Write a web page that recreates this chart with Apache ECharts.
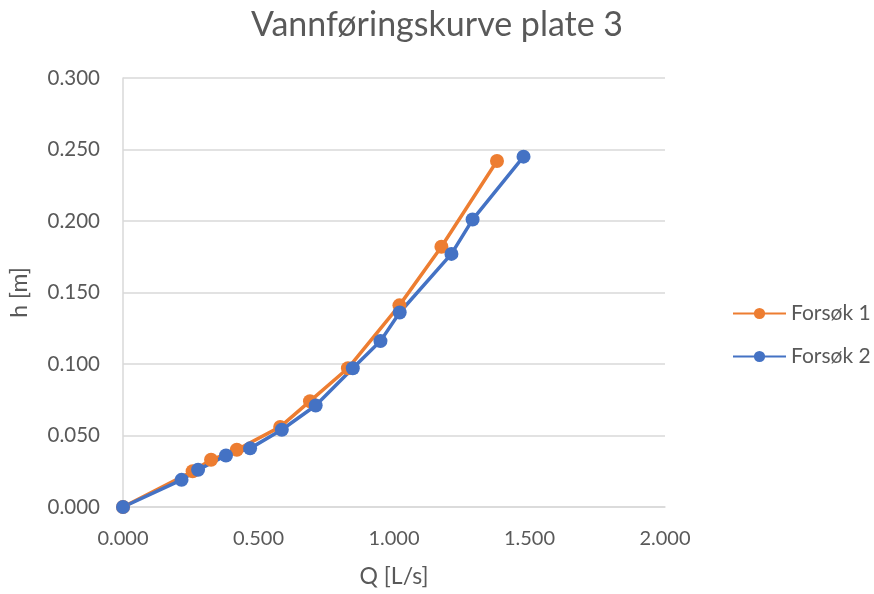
<!DOCTYPE html>
<html><head><meta charset="utf-8">
<script src="https://cdn.jsdelivr.net/npm/echarts@6/dist/echarts.min.js"></script>
<style>html,body{margin:0;padding:0;background:#fff}#c{width:874px;height:594px}</style>
</head><body><div id="c"></div>
<script>
const titleText = 'Vannføringskurve plate 3';
const seriesNames = ['Forsøk 1', 'Forsøk 2'];
const q1 = [0, 0.257, 0.325, 0.42, 0.58, 0.69, 0.83, 1.02, 1.175, 1.38];
const h1 = [0, 0.025, 0.033, 0.040, 0.056, 0.074, 0.097, 0.141, 0.182, 0.242];
const q2 = [0, 0.216, 0.277, 0.38, 0.469, 0.586, 0.711, 0.848, 0.95, 1.021, 1.212, 1.29, 1.478];
const h2 = [0, 0.019, 0.026, 0.036, 0.041, 0.054, 0.071, 0.097, 0.116, 0.136, 0.177, 0.201, 0.245];
const colors = ['#ED7D31', '#4472C4'];

const font = 'Lato, "Liberation Sans", sans-serif';
const chart = echarts.init(document.getElementById('c'));
const mk = (name, qs, hs, color) => ({
  name, type: 'line', data: qs.map((q, i) => [q, hs[i]]),
  symbol: 'circle', symbolSize: 14, color,
  lineStyle: { width: 3.5, color }, itemStyle: { color },
  emphasis: { disabled: true }, animation: false
});
chart.setOption({
  animation: false,
  title: { text: titleText, left: 'center', top: 3,
    textStyle: { fontFamily: font, fontSize: 34, fontWeight: 'normal', color: '#595959' } },
  grid: { left: 122, right: 209, top: 78, bottom: 87, containLabel: false },
  legend: { orient: 'vertical', left: 727, top: 298, padding: 5, itemWidth: 53, itemHeight: 14, itemGap: 22,
    textStyle: { fontFamily: font, fontSize: 21, color: '#595959' },
    data: seriesNames },
  xAxis: { type: 'value', min: 0, max: 2, interval: 0.5,
    name: 'Q [L/s]', nameLocation: 'middle', nameGap: 58,
    nameTextStyle: { fontFamily: font, fontSize: 23, color: '#595959' },
    axisLine: { show: true, lineStyle: { color: '#d9d9d9', width: 1.5 } },
    axisTick: { show: false }, splitLine: { show: false },
    axisLabel: { fontFamily: font, fontSize: 20, color: '#595959', margin: 22,
      formatter: v => v.toFixed(3) } },
  yAxis: { type: 'value', min: 0, max: 0.3, interval: 0.05,
    name: 'h [m]', nameLocation: 'middle', nameGap: 92, nameRotate: 90,
    nameTextStyle: { fontFamily: font, fontSize: 23, color: '#595959' },
    axisLine: { show: true, lineStyle: { color: '#d9d9d9', width: 1.5 } },
    axisTick: { show: false },
    splitLine: { lineStyle: { color: '#d9d9d9', width: 1.5 } },
    axisLabel: { fontFamily: font, fontSize: 20.5, color: '#595959', margin: 23,
      formatter: v => v.toFixed(3) } },
  series: [mk(seriesNames[0], q1, h1, colors[0]), mk(seriesNames[1], q2, h2, colors[1])]
});
</script></body></html>
